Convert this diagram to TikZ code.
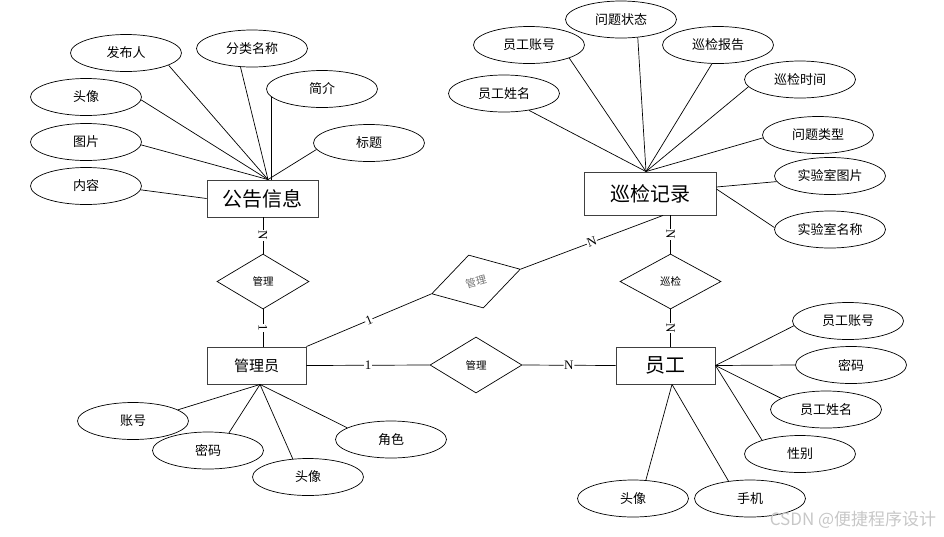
\documentclass[tikz,border=0pt]{standalone}
\usepackage{fontspec}
\setmainfont{Liberation Serif}
\newfontfamily\cjk{Noto Sans CJK SC}
\usetikzlibrary{shapes.geometric}
\begin{document}
\begin{tikzpicture}[x=1pt,y=-1pt,
 attr/.style={draw, ellipse, minimum width=111pt, minimum height=37pt, inner sep=0pt, font=\cjk\fontsize{13}{13}\selectfont, line width=0.7pt},
 ent/.style={draw=black!75, rectangle, inner sep=0pt, line width=0.9pt},
 rel/.style={draw, diamond, minimum width=92pt, minimum height=55pt, inner sep=0pt, font=\cjk\fontsize{10.5}{10.5}\selectfont, line width=0.7pt},
 ln/.style={line width=0.7pt},
 card/.style={fill=white, inner sep=0.6pt, font=\fontsize{13}{13}\selectfont, sloped}
]
\useasboundingbox (0,0) rectangle (944,536);

% entities
\node[ent, minimum width=111pt, minimum height=37pt, font=\cjk\fontsize{20}{20}\selectfont] (gg) at (262.5,198.5) {公告信息};
\node[ent, minimum width=99pt, minimum height=37pt, font=\cjk\fontsize{15}{15}\selectfont] (gly) at (256.5,365.5) {管理员};
\node[ent, minimum width=99pt, minimum height=37pt, font=\cjk\fontsize{20}{20}\selectfont] (yg) at (665.5,365.5) {员工};
\node[ent, minimum width=132pt, minimum height=43pt, font=\cjk\fontsize{20}{20}\selectfont] (xj) at (650,193.5) {巡检记录};

% attributes of 公告信息
\node[attr] (a1) at (126,53) {发布人};
\node[attr] (a2) at (252,48.5) {分类名称};
\node[attr] (a3) at (322,89) {简介};
\node[attr] (a4) at (86,97) {头像};
\node[attr] (a5) at (86,142) {图片};
\node[attr] (a6) at (369,143) {标题};
\node[attr] (a7) at (86,186) {内容};

% attributes of 巡检记录
\node[attr] (b1) at (621,19.5) {问题状态};
\node[attr] (b2) at (529,45) {员工账号};
\node[attr] (b3) at (718,45) {巡检报告};
\node[attr] (b4) at (800,79.5) {巡检时间};
\node[attr] (b5) at (504,93.5) {员工姓名};
\node[attr] (b6) at (818,135) {问题类型};
\node[attr] (b7) at (830,176) {实验室图片};
\node[attr] (b8) at (830,229.5) {实验室名称};

% attributes of 管理员
\node[attr] (c1) at (133,421) {账号};
\node[attr] (c2) at (208,450.5) {密码};
\node[attr] (c3) at (308,477) {头像};
\node[attr] (c4) at (391,439.5) {角色};

% attributes of 员工
\node[attr] (d1) at (848,321) {员工账号};
\node[attr] (d2) at (851,365) {密码};
\node[attr] (d3) at (826,409.5) {员工姓名};
\node[attr] (d4) at (800,454) {性别};
\node[attr] (d5) at (633,498.5) {头像};
\node[attr] (d6) at (750,498.5) {手机};

% relationships
\node[rel] (r1) at (263,281.5) {管理};
\node[rel, rotate=15.5, text=black!55] (r2) at (476,281.5) {管理};
\node[rel, minimum height=56pt] (r3) at (476,365) {管理};
\node[rel, minimum width=101pt] (r4) at (670.5,281.5) {巡检};

% attribute connectors: 公告信息
\coordinate (ggt) at ([xshift=5.5pt]gg.north);
\draw[ln] (a1.-16) -- (ggt);
\draw[ln] (a2.-122) -- (ggt);
\draw[ln] (a3.189) -- (a3.189 |- gg.north);
\draw[ln] (a4.-3) -- (ggt);
\draw[ln] (a5.-3) -- (ggt);
\draw[ln] (a6.-173) -- (ggt);
\draw[ln] (a7.-4) -- (gg.west);

% attribute connectors: 巡检记录
\coordinate (xjt) at ([xshift=-4pt]xj.north);
\draw[ln] (b1.-47) -- (xjt);
\draw[ln] (b2.-18) -- (xjt);
\draw[ln] (b3.-108) -- (xjt);
\draw[ln] (b4.-172) -- (xjt);
\draw[ln] (b5.-34) -- (xjt);
\draw[ln] (b6.-177) -- (xjt);
\draw[ln] (b7.-174) -- ([yshift=6.5pt]xj.east);
\draw[ln] (b8.178) -- ([yshift=4.5pt]xj.east);

% attribute connectors: 管理员
\coordinate (glyb) at ([xshift=3.5pt]gly.south);
\draw[ln] (c1.14) -- (glyb);
\draw[ln] (c2.40) -- (glyb);
\draw[ln] (c3.130) -- (glyb);
\draw[ln] (c4.165) -- (glyb);

% attribute connectors: 员工
\coordinate (ygb) at ([xshift=6.5pt]yg.south);
\draw[ln] (d1.-175) -- (yg.east);
\draw[ln] (d2.180) -- (yg.east);
\draw[ln] (d3.166) -- (yg.east);
\draw[ln] (d4.160) -- (yg.east);
\draw[ln] (d5.55) -- (ygb);
\draw[ln] (d6.141) -- (ygb);

% relationship connectors
\coordinate (xjb) at ([xshift=13pt]xj.south);
\draw[ln] (gg.south -| r1.north) -- node[card]{N} (r1.north);
\draw[ln] (r1.south) -- node[card]{1} (r1.south |- gly.north);
\draw[ln] (gly.north east) -- node[card]{1} (r2.west);
\draw[ln] (r2.east) -- node[card]{N} (xjb);
\draw[ln] (gly.east) -- node[card]{1} (r3.west);
\draw[ln] (r3.east) -- node[card]{N} (yg.west);
\draw[ln] (xj.south -| r4.north) -- node[card]{N} (r4.north);
\draw[ln] (r4.south) -- node[card]{N} (yg.north -| r4.south);

% watermark
\node[font=\cjk\fontsize{17}{17}\selectfont, text=black!22] (wm) at (853,520) {CSDN @便捷程序设计};
\end{tikzpicture}
\end{document}
